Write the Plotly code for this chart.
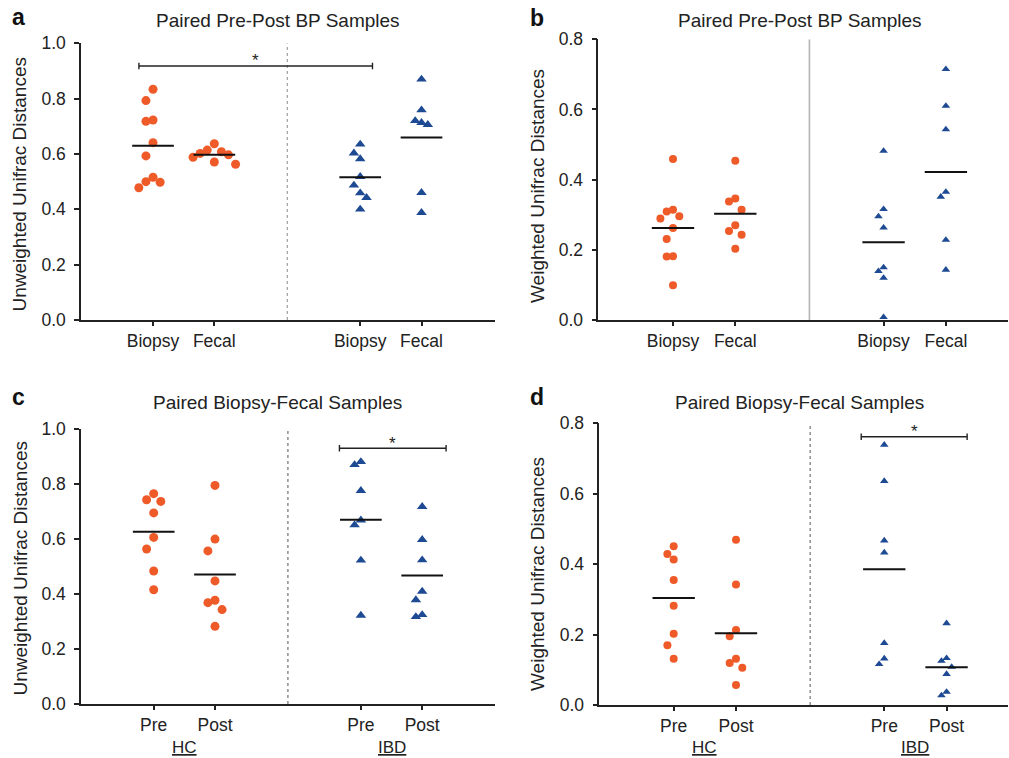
import numpy as np
import plotly.graph_objects as go

W, H = 1009, 758
FONT = "Liberation Sans, Arial, sans-serif"
INK = "#222222"
ORANGE = "#EF5A29"
BLUE = "#1D4A92"

# x position of each column: HC pair, gap, IBD pair
GROUP_X = [0.0, 1.0, 3.38, 4.38]

# ---- values -------------------------------------------------------------
# a: Paired Pre-Post BP samples, unweighted UniFrac
a_hc_biopsy = [0.834, 0.793, 0.723, 0.718, 0.641, 0.593, 0.516, 0.500, 0.498, 0.478]
a_hc_fecal = [0.637, 0.614, 0.608, 0.602, 0.597, 0.588, 0.571, 0.563]
a_ibd_biopsy = [0.635, 0.603, 0.582, 0.518, 0.487, 0.459, 0.442, 0.400]
a_ibd_fecal = [0.870, 0.759, 0.720, 0.713, 0.706, 0.460, 0.388]

# b: Paired Pre-Post BP samples, weighted UniFrac
b_hc_biopsy = [0.459, 0.314, 0.309, 0.296, 0.289, 0.262, 0.231, 0.182, 0.181, 0.099]
b_hc_fecal = [0.454, 0.346, 0.338, 0.314, 0.270, 0.254, 0.243, 0.203]
b_ibd_biopsy = [0.482, 0.316, 0.295, 0.263, 0.150, 0.139, 0.120, 0.008]
b_ibd_fecal = [0.715, 0.610, 0.543, 0.365, 0.351, 0.228, 0.143]

# c: Paired Biopsy-Fecal samples, unweighted UniFrac
c_hc_pre = [0.764, 0.742, 0.736, 0.694, 0.605, 0.563, 0.483, 0.415]
c_hc_post = [0.794, 0.599, 0.556, 0.447, 0.377, 0.368, 0.343, 0.282]
c_ibd_pre = [0.880, 0.869, 0.775, 0.668, 0.650, 0.522, 0.322]
c_ibd_post = [0.717, 0.597, 0.523, 0.409, 0.378, 0.324, 0.317]

# d: Paired Biopsy-Fecal samples, weighted UniFrac
d_hc_pre = [0.451, 0.429, 0.413, 0.355, 0.282, 0.202, 0.170, 0.131]
d_hc_post = [0.469, 0.342, 0.213, 0.195, 0.131, 0.119, 0.106, 0.057]
d_ibd_pre = [0.739, 0.636, 0.467, 0.433, 0.176, 0.132, 0.116]
d_ibd_post = [0.232, 0.133, 0.125, 0.108, 0.088, 0.037, 0.027]

bp_labels = ["Biopsy", "Fecal", "Biopsy", "Fecal"]
bf_labels = ["Pre", "Post", "Pre", "Post"]
group_names = ["HC", "IBD"]

unw_ticks = [0.0, 0.2, 0.4, 0.6, 0.8, 1.0]
w_ticks = [0.0, 0.2, 0.4, 0.6, 0.8]

# ---- panel layout (pixel boxes of each plot area) ------------------------
panels = [
    dict(letter="a", title="Paired Pre-Post BP Samples", ytitle="Unweighted Unifrac Distances",
         box=(81, 495, 43.3, 320), xr=(-1.175, 5.579), yticks=unw_ticks,
         series=[a_hc_biopsy, a_hc_fecal, a_ibd_biopsy, a_ibd_fecal], labels=bp_labels,
         groups=False, divider=dict(color="#8a8a8a", width=1, dash="dot"),
         sig=(GROUP_X[0] - 0.23, GROUP_X[2] + 0.2, 0.918), msize=(9, 8),
         letter_xy=(18, 17), title_xy=(277.5, 20.5), ytitle_xy=(19.5, 184)),
    dict(letter="b", title="Paired Pre-Post BP Samples", ytitle="Weighted Unifrac Distances",
         box=(598.3, 1008, 39.3, 320), xr=(-1.199, 5.377), yticks=w_ticks,
         series=[b_hc_biopsy, b_hc_fecal, b_ibd_biopsy, b_ibd_fecal], labels=bp_labels,
         groups=False, divider=dict(color="#b4b4b4", width=1.6, dash="solid"),
         sig=None, msize=(8, 6.5),
         letter_xy=(537, 18), title_xy=(799.5, 20.5), ytitle_xy=(537, 186)),
    dict(letter="c", title="Paired Biopsy-Fecal Samples", ytitle="Unweighted Unifrac Distances",
         box=(81, 495, 428.7, 704), xr=(-1.186, 5.568), yticks=unw_ticks,
         series=[c_hc_pre, c_hc_post, c_ibd_pre, c_ibd_post], labels=bf_labels,
         groups=True, divider=dict(color="#555555", width=1, dash="dot"),
         sig=(GROUP_X[2] - 0.35, GROUP_X[3] + 0.39, 0.929), msize=(9, 8),
         letter_xy=(18, 397), title_xy=(277, 402.5), ytitle_xy=(19.5, 568)),
    dict(letter="d", title="Paired Biopsy-Fecal Samples", ytitle="Weighted Unifrac Distances",
         box=(599.3, 1008, 423.3, 705), xr=(-1.194, 5.366), yticks=w_ticks,
         series=[d_hc_pre, d_hc_post, d_ibd_pre, d_ibd_post], labels=bf_labels,
         groups=True, divider=dict(color="#555555", width=1, dash="dot"),
         sig=(GROUP_X[2] - 0.37, GROUP_X[3] + 0.33, 0.762), msize=(8, 6.5),
         letter_xy=(537, 397), title_xy=(799.5, 402.5), ytitle_xy=(537, 574)),
]


def swarm(values, ppx, ppy, diam):
    """Spread points sideways (pixel-space beeswarm) so close values don't overlap."""
    vals = np.asarray(values, dtype=float)
    step = 0.75 * diam
    reach = 1.5 * diam
    cands = [0.0]
    for k in range(1, 12):
        cands += [-k * step, k * step]
    placed = []
    offs = np.zeros(len(vals))
    for i in np.argsort(-vals, kind="stable"):
        y = vals[i] * ppy
        for c in cands:
            if all(not (abs(y - py) < reach and abs(c - px) < step * 0.5) for py, px in placed):
                break
        placed.append((y, c))
        offs[i] = c / ppx
    return offs


fig = go.Figure()
shapes = []
annotations = []

for n, p in enumerate(panels, start=1):
    xa = "x" if n == 1 else f"x{n}"
    ya = "y" if n == 1 else f"y{n}"
    left, right, top, bottom = p["box"]
    ytop = p["yticks"][-1]
    ppx = (right - left) / (p["xr"][1] - p["xr"][0])
    ppy = (bottom - top) / ytop

    for k, vals in enumerate(p["series"]):
        ibd = k >= 2
        diam = p["msize"][1] if ibd else p["msize"][0]
        xs = GROUP_X[k] + swarm(vals, ppx, ppy, diam * 1.05)
        fig.add_trace(go.Scatter(
            x=xs, y=vals, mode="markers", xaxis=xa, yaxis=ya, cliponaxis=False,
            marker=dict(symbol="triangle-up" if ibd else "circle",
                        size=diam * (1.15 if ibd else 1.0),
                        color=BLUE if ibd else ORANGE, line=dict(width=0)),
            hoverinfo="y", showlegend=False))
        m = float(np.mean(vals))
        fig.add_trace(go.Scatter(
            x=[GROUP_X[k] - 0.34, GROUP_X[k] + 0.34], y=[m, m], mode="lines",
            xaxis=xa, yaxis=ya, cliponaxis=False,
            line=dict(color="#111111", width=2), hoverinfo="skip", showlegend=False))

    # divider between HC and IBD columns
    xdiv = (GROUP_X[1] + GROUP_X[2]) / 2
    shapes.append(dict(type="line", xref=xa, yref=ya, x0=xdiv, x1=xdiv, y0=0, y1=ytop,
                       line=p["divider"], layer="below"))

    # significance bracket
    if p["sig"] is not None:
        x0, x1, ys = p["sig"]
        cap = 3.2 / ppy
        for seg in [(x0, x1, ys, ys), (x0, x0, ys - cap, ys + cap), (x1, x1, ys - cap, ys + cap)]:
            shapes.append(dict(type="line", xref=xa, yref=ya, x0=seg[0], x1=seg[1],
                               y0=seg[2], y1=seg[3], line=dict(color=INK, width=1.4)))
        annotations.append(dict(text="*", xref=xa, yref=ya, x=(x0 + x1) / 2, y=ys,
                                xanchor="center", yanchor="middle", yshift=5, showarrow=False,
                                font=dict(family=FONT, size=17, color=INK)))

    # group names under the tick labels
    if p["groups"]:
        for g, name in enumerate(group_names):
            annotations.append(dict(text=f"<u>{name}</u>", xref=xa, yref="paper",
                                    x=(GROUP_X[2 * g] + GROUP_X[2 * g + 1]) / 2,
                                    y=1 - 747 / H, xanchor="center", yanchor="middle",
                                    showarrow=False, font=dict(family=FONT, size=17, color=INK)))

    # panel letter, title, y-axis title
    lx, ly = p["letter_xy"]
    annotations.append(dict(text=f"<b>{p['letter']}</b>", xref="paper", yref="paper",
                            x=lx / W, y=1 - ly / H, xanchor="center", yanchor="middle",
                            showarrow=False, font=dict(family=FONT, size=23, color="#111111")))
    tx, ty = p["title_xy"]
    annotations.append(dict(text=p["title"], xref="paper", yref="paper", x=tx / W, y=1 - ty / H,
                            xanchor="center", yanchor="middle", showarrow=False,
                            font=dict(family=FONT, size=19, color=INK)))
    yx, yy = p["ytitle_xy"]
    annotations.append(dict(text=p["ytitle"], xref="paper", yref="paper", x=yx / W, y=1 - yy / H,
                            xanchor="center", yanchor="middle", textangle=-90, showarrow=False,
                            font=dict(family=FONT, size=19, color=INK)))

    axis_common = dict(showline=True, linecolor=INK, linewidth=1.5, ticks="outside",
                       tickcolor=INK, tickwidth=1.5, showgrid=False, zeroline=False,
                       automargin=False,
                       tickfont=dict(family=FONT, size=17.5, color=INK), fixedrange=True)
    fig.update_layout(**{
        ("xaxis" if n == 1 else f"xaxis{n}"): dict(
            axis_common, domain=[left / W, right / W], range=list(p["xr"]), anchor=ya,
            tickvals=GROUP_X, ticktext=p["labels"], ticklen=4),
        ("yaxis" if n == 1 else f"yaxis{n}"): dict(
            axis_common, domain=[1 - bottom / H, 1 - top / H], range=[0, ytop], anchor=xa,
            tickvals=p["yticks"], tickformat=".1f", ticklen=5, ticklabelstandoff=5),
    })

fig.update_layout(width=W, height=H, margin=dict(l=0, r=0, t=0, b=0, autoexpand=False),
                  paper_bgcolor="white", plot_bgcolor="white", showlegend=False,
                  shapes=shapes, annotations=annotations,
                  font=dict(family=FONT, color=INK))

fig.write_html("out.html")
